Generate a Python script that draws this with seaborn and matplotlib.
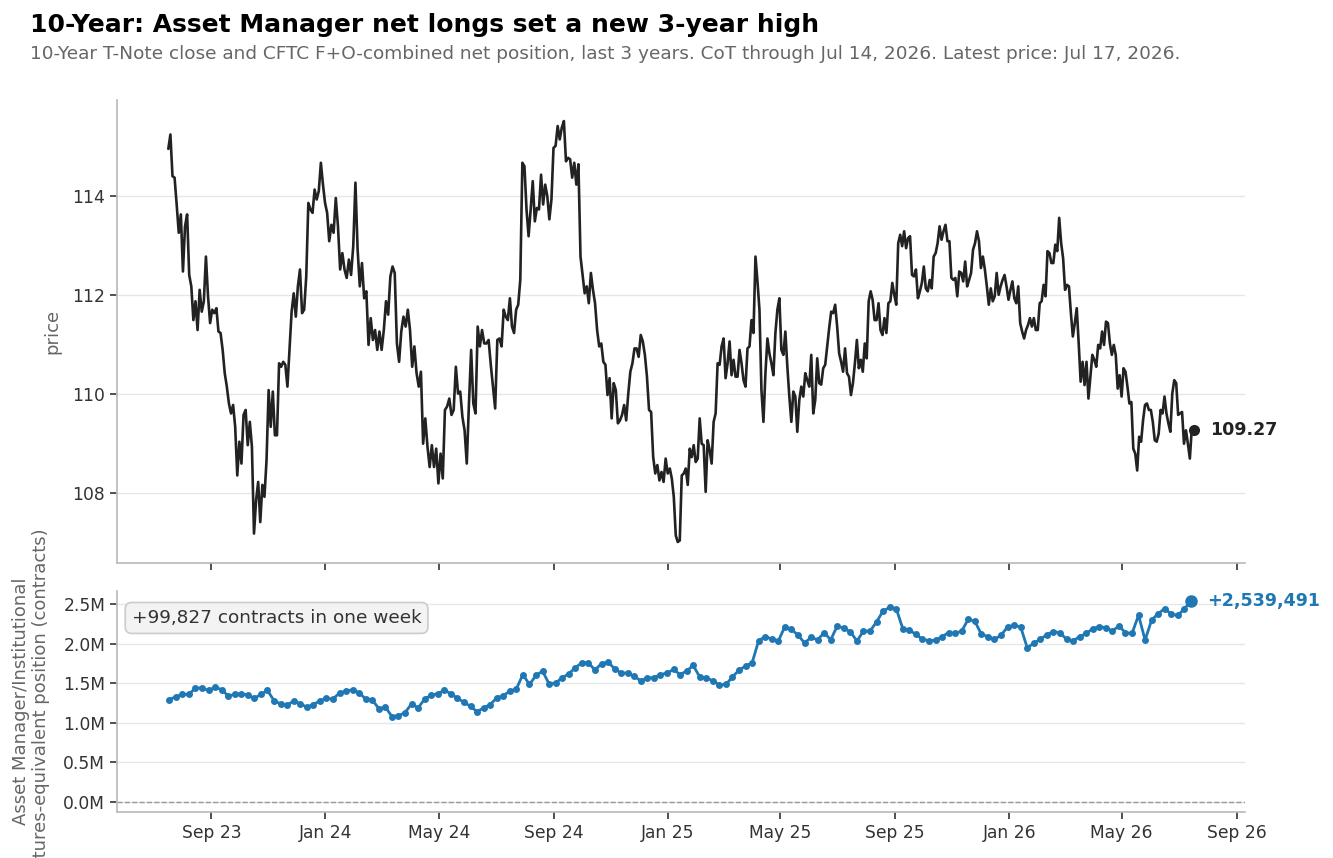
import numpy as np
import pandas as pd
import matplotlib
matplotlib.use("Agg")
import matplotlib.pyplot as plt
import matplotlib.dates as mdates
from matplotlib.ticker import FuncFormatter
import seaborn as sns

# 10-Year T-Note close (roughly every other session),
# kept in half-year stretches so the sampling can be pinned to dates
price_h2_23 = [
    114.94, 115.23, 114.39, 114.36, 113.82, 113.25, 113.62, 112.47, 113.38, 113.62, 112.40, 112.17, 111.49,
    111.87, 111.29, 112.10, 111.66, 111.87, 112.77, 111.97, 111.43, 111.70, 111.63, 111.73, 111.26, 111.23,
    110.89, 110.42, 110.15, 109.81, 109.61, 109.78, 109.34, 108.36, 109.04, 108.60, 109.58, 109.68, 108.97,
    109.44, 108.94, 107.19, 107.86, 108.23, 107.42, 108.17, 107.93, 108.67, 110.08, 109.34, 110.05, 109.17,
    109.17, 110.62, 110.55, 110.65, 110.59, 110.15, 110.89, 111.66, 112.03, 111.56, 112.17, 112.51, 111.63,
    111.70, 112.37, 113.85, 113.72, 113.65, 114.12, 113.92, 114.09, 114.66, 114.22, 113.85, 113.65, 113.08,
]
price_h1_24 = [
    113.41, 113.25, 113.95, 113.38, 112.51, 112.84, 112.51, 112.34, 112.71, 112.40, 112.98, 114.26, 112.91,
    112.17, 112.64, 111.93, 112.07, 110.99, 111.53, 111.09, 111.29, 110.89, 111.26, 110.89, 111.29, 111.87,
    111.60, 112.37, 112.57, 112.44, 111.02, 110.65, 111.26, 111.56, 111.36, 111.70, 111.29, 110.55, 110.96,
    110.42, 110.15, 110.45, 109.00, 109.51, 108.94, 108.53, 108.97, 108.53, 108.90, 108.20, 108.80, 108.30,
    109.68, 109.75, 109.91, 109.58, 109.68, 110.55, 110.01, 110.05, 109.54, 109.27, 108.60, 109.81, 110.89,
    109.81, 109.61, 111.36, 110.96, 111.29, 111.02, 111.02, 111.09, 110.59, 110.15, 109.71, 111.09, 111.12,
]
price_h2_24 = [
    110.96, 111.70, 111.56, 111.49, 111.93, 111.36, 111.23, 111.70, 111.80, 112.30, 114.66, 114.59, 113.72,
    113.18, 113.72, 114.29, 113.48, 113.75, 113.72, 114.42, 113.82, 114.22, 113.99, 113.52, 113.92, 114.96,
    115.00, 115.40, 115.13, 115.37, 115.50, 114.69, 114.76, 114.73, 114.36, 114.66, 114.22, 114.63, 112.77,
    112.40, 112.03, 112.17, 111.83, 112.44, 112.10, 111.83, 111.29, 110.96, 111.02, 110.65, 110.59, 109.98,
    110.32, 109.51, 110.22, 110.08, 109.41, 109.47, 109.58, 109.78, 109.47, 110.01, 110.45, 110.62, 110.92,
    110.92, 110.75, 111.19, 111.06, 110.79, 110.35, 109.68, 109.64, 108.73, 108.40, 108.57, 108.26, 108.43,
    108.23, 108.70, 108.40, 108.50,
]
price_h1_25 = [
    108.30, 107.93, 107.15, 107.02, 107.05, 108.36, 108.40, 108.50, 108.17, 108.90, 108.73, 108.97, 108.63,
    108.70, 109.51, 109.00, 108.97, 108.03, 109.07, 108.87, 108.60, 109.44, 109.61, 110.62, 110.59, 110.96,
    111.12, 110.32, 110.62, 111.06, 110.38, 110.69, 110.35, 110.35, 110.89, 110.62, 110.28, 110.15, 110.92,
    110.96, 111.49, 111.23, 112.77, 112.27, 111.70, 110.08, 109.44, 110.42, 111.12, 110.82, 110.62, 110.38,
    111.23, 111.70, 111.93, 110.89, 110.79, 111.26, 110.55, 109.95, 109.44, 110.05, 109.95, 109.24, 109.88,
    110.15, 109.95, 110.42, 110.28, 110.15, 110.79, 109.61, 109.88, 110.72, 110.22, 110.19, 110.52, 110.59,
    110.96, 111.33, 111.66, 111.63, 111.80, 111.36, 110.82,
]
price_h2_25 = [
    110.65, 110.45, 110.92, 110.42, 110.35, 109.98, 110.22, 110.62, 111.09, 110.52, 110.69, 110.45, 111.02,
    110.72, 111.87, 112.07, 111.90, 111.49, 111.49, 111.83, 111.29, 111.19, 111.53, 111.23, 111.83, 111.87,
    112.24, 112.00, 111.80, 113.04, 113.21, 112.98, 113.28, 112.94, 113.14, 113.18, 112.40, 112.37, 112.51,
    111.93, 112.07, 112.24, 112.57, 112.13, 112.07, 112.30, 112.13, 112.77, 112.84, 113.04, 113.38, 113.11,
    113.28, 113.41, 113.08, 113.08, 112.34, 112.30, 112.34, 111.97, 112.47, 112.44, 112.27, 112.67, 112.17,
    112.30, 112.44, 112.91, 113.04, 113.28, 113.08, 112.54, 112.77, 112.51, 112.17, 111.80, 112.13, 111.87,
    111.97, 112.44, 112.00, 112.17, 112.30, 112.40, 112.17, 111.90,
]
price_h1_26 = [
    112.10, 112.27, 111.93, 111.83, 112.17, 111.43, 111.26, 111.12, 111.29, 111.39, 111.53, 111.36, 111.53,
    111.29, 111.29, 111.83, 111.87, 112.20, 111.97, 112.88, 112.84, 112.64, 112.64, 113.01, 112.88, 113.55,
    113.04, 112.74, 112.10, 112.20, 112.17, 111.63, 111.16, 111.43, 111.73, 111.02, 110.25, 110.65, 110.18,
    110.65, 109.91, 110.35, 110.79, 110.69, 110.55, 110.99, 110.92, 111.26, 110.99, 111.46, 111.43, 111.02,
    110.79, 110.99, 110.79, 110.11, 110.38, 109.95, 110.52, 110.45, 110.15, 109.81, 109.84, 108.90, 108.80,
    108.46, 109.14, 109.04, 109.47, 109.78, 109.81, 109.68, 109.68, 109.44, 109.07, 109.04, 109.20, 109.68,
    109.61, 109.95, 109.61, 109.41, 109.24, 110.01, 110.28, 110.22, 109.58, 109.61, 109.64, 109.00, 109.27,
    109.00, 108.70, 109.31, 109.27,
]
price_segments = [price_h2_23, price_h1_24, price_h2_24, price_h1_25, price_h2_25, price_h1_26]
# first session, then last session of each stretch
segment_dates = ["2023-07-17", "2024-01-05", "2024-07-05", "2025-01-03",
                 "2025-07-03", "2025-12-31", "2026-07-17"]

# Asset Manager net position, millions of contracts, weekly CoT
net_m = [
    1.294, 1.33, 1.36, 1.36, 1.44, 1.44, 1.41, 1.45, 1.42, 1.34, 1.36, 1.37, 1.35, 1.31, 1.36, 1.41,
    1.28, 1.24, 1.22, 1.28, 1.24, 1.20, 1.23, 1.28, 1.31, 1.30, 1.38, 1.40, 1.42, 1.38, 1.30, 1.29,
    1.18, 1.20, 1.08, 1.09, 1.13, 1.24, 1.19, 1.30, 1.35, 1.37, 1.41, 1.37, 1.31, 1.26, 1.21, 1.14,
    1.19, 1.23, 1.316, 1.345, 1.40, 1.43, 1.61, 1.485, 1.60, 1.655, 1.49, 1.505, 1.57, 1.62, 1.697,
    1.76, 1.76, 1.667, 1.75, 1.768, 1.684, 1.63, 1.63, 1.59, 1.53, 1.57, 1.57, 1.61, 1.63, 1.675,
    1.61, 1.655, 1.726, 1.58, 1.57, 1.53, 1.48, 1.485, 1.58, 1.667, 1.717, 1.76, 2.04, 2.09, 2.06,
    2.035, 2.217, 2.18, 2.11, 2.01, 2.08, 2.05, 2.14, 2.05, 2.225, 2.195, 2.15, 2.035, 2.16, 2.16,
    2.276, 2.415, 2.458, 2.445, 2.19, 2.17, 2.12, 2.056, 2.04, 2.043, 2.09, 2.14, 2.13, 2.16, 2.31,
    2.284, 2.12, 2.09, 2.056, 2.106, 2.212, 2.233, 2.212, 1.95, 2.005, 2.056, 2.115, 2.153, 2.14,
    2.056, 2.035, 2.09, 2.13, 2.19, 2.216, 2.203, 2.16, 2.225, 2.14, 2.13, 2.36, 2.047, 2.30, 2.38,
    2.445, 2.373, 2.36, 2.439664, 2.539491,
]
cot_end = "2026-07-14"

title = "10-Year: Asset Manager net longs set a new 3-year high"
subtitle = ("10-Year T-Note close and CFTC F+O-combined net position, last 3 years. "
            "CoT through Jul 14, 2026. Latest price: Jul 17, 2026.")

parts = []
for i, seg in enumerate(price_segments):
    if i == 0:
        d = pd.date_range(segment_dates[0], segment_dates[1], periods=len(seg))
    else:
        d = pd.date_range(segment_dates[i], segment_dates[i + 1], periods=len(seg) + 1)[1:]
    parts.append(pd.DataFrame({"date": d, "price": seg}))
price_df = pd.concat(parts, ignore_index=True)

cot_df = pd.DataFrame({
    "date": pd.date_range(end=cot_end, periods=len(net_m), freq="7D"),
    "net": np.array(net_m) * 1e6,
})

sns.set_theme(style="ticks")
plt.rcParams["font.family"] = ["DejaVu Sans"]
plt.rcParams["axes.edgecolor"] = "#bbbbbb"
plt.rcParams["xtick.color"] = "#333333"
plt.rcParams["ytick.color"] = "#333333"

fig = plt.figure(figsize=(13.33, 8.58), dpi=100)
ax1 = fig.add_axes([0.0878, 0.3438, 0.8462, 0.5396])
ax2 = fig.add_axes([0.0878, 0.0536, 0.8462, 0.2576], sharex=ax1)

blue = "#1f77b4"
dark = "#222222"

sns.lineplot(data=price_df, x="date", y="price", ax=ax1, color=dark, lw=1.9)
last_p = price_df.iloc[-1]
ax1.plot(last_p["date"], last_p["price"], "o", color=dark, ms=7)
ax1.annotate(f"{last_p['price']:.2f}", (last_p["date"], last_p["price"]),
             xytext=(12, 0), textcoords="offset points", va="center", ha="left",
             fontsize=12.6, fontweight="bold", color=dark, annotation_clip=False)

sns.lineplot(data=cot_df, x="date", y="net", ax=ax2, color=blue, lw=2,
             marker="o", markersize=5, markeredgewidth=0)
ax2.axhline(0, color="#999999", lw=1, ls="--", zorder=1.5)
last_c = cot_df.iloc[-1]
ax2.plot(last_c["date"], last_c["net"], "o", color=blue, ms=8)
ax2.annotate(f"+{last_c['net']:,.0f}", (last_c["date"], last_c["net"]),
             xytext=(12, 0), textcoords="offset points", va="center", ha="left",
             fontsize=12.6, fontweight="bold", color=blue, annotation_clip=False)

week_change = cot_df["net"].iloc[-1] - cot_df["net"].iloc[-2]
ax2.text(0.013, 0.878, f"+{week_change:,.0f} contracts in one week", transform=ax2.transAxes,
         fontsize=13.3, color="#333333", va="center", ha="left",
         bbox=dict(boxstyle="round,pad=0.35", fc="#f3f3f3", ec="#cccccc", lw=1.2))

for ax in (ax1, ax2):
    ax.grid(axis="y", color="#e6e6e6", lw=1)
    ax.set_axisbelow(True)
    sns.despine(ax=ax)
    ax.tick_params(labelsize=12.3, length=5, width=1.2)
    ax.set_xlabel("")

ax1.set_ylabel("price", fontsize=13, color="#666666")
ax1.yaxis.set_label_coords(-0.049, 0.5)
ax2.set_ylabel("Asset Manager/Institutional\nfutures-equivalent position (contracts)",
               fontsize=13, color="#666666")
ax2.yaxis.set_label_coords(-0.059, 0.5)
ax1.tick_params(labelbottom=False)

ax2.xaxis.set_major_locator(mdates.MonthLocator(bymonth=[1, 5, 9]))
ax2.xaxis.set_major_formatter(mdates.DateFormatter("%b %y"))
ax2.yaxis.set_major_formatter(FuncFormatter(lambda v, _: f"{v / 1e6:.1f}M"))
ax2.set_yticks(np.arange(0, 2.51e6, 0.5e6))

fig.text(0.0225, 0.971, title, fontsize=18, fontweight="bold", color="black", va="center")
fig.text(0.0225, 0.937, subtitle, fontsize=13.3, color="#666666", va="center")

fig.savefig("out.png", dpi=100)
